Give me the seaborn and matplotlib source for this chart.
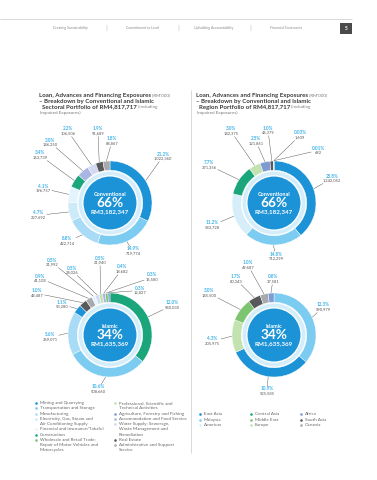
import matplotlib
matplotlib.use('Agg')
import matplotlib.pyplot as plt
from matplotlib.patches import Circle, Wedge, Rectangle
import numpy as np
import seaborn as sns

# ---- data -------------------------------------------------------------
sector_names = [
    'Mining and Quarrying', 'Transportation and Storage', 'Manufacturing',
    'Electricity, Gas, Steam and\nAir Conditioning Supply',
    'Financial and Insurance/Takaful', 'Construction',
    'Wholesale and Retail Trade;\nRepair of Motor Vehicles and\nMotorcycles',
    'Professional, Scientific and\nTechnical Activities',
    'Agriculture, Forestry and Fishing', 'Accommodation and Food Service',
    'Water Supply; Sewerage,\nWaste Management and\nRemediation',
    'Real Estate', 'Administrative and Support\nService',
]
sector_colors = ['#1b93d6', '#7ccbf1', '#a8dbf5', '#cdeaf9', '#e4f4fc', '#1aa57a',
                 '#7dc470', '#c2e3b0', '#7f9bd2', '#a9b6e4', '#d3d9f0', '#58595b', '#a7a9ac']

region_names = ['East Asia', 'Malaysia', 'Americas', 'Central Asia', 'Middle East',
                'Europe', 'Africa', 'South Asia', 'Oceania']
region_colors = ['#1b93d6', '#7ccbf1', '#d6eefa', '#1aa57a', '#7dc470',
                 '#c2e3b0', '#7f9bd2', '#58595b', '#a7a9ac']

# conventional, by sector (clockwise from top)
conv_sec_idx = [0, 1, 2, 3, 4, 5, 9, 10, 11, 12]
conv_sec_values = [1022360, 719774, 422714, 227692, 196757, 163739, 146250, 106506, 91689, 84867]
conv_sec_pcts = ['21.2%', '14.9%', '8.8%', '4.7%', '4.1%', '3.4%', '3.0%', '2.2%', '1.9%', '1.8%']

# islamic, by sector
isl_sec_idx = [5, 1, 2, 0, 11, 12, 4, 10, 7, 9, 6, 8]
isl_sec_values = [580030, 508660, 269071, 53280, 48487, 41108, 21992, 24026, 21940, 18682, 15580, 12827]
isl_sec_pcts = ['12.0%', '10.6%', '5.6%', '1.1%', '1.0%', '0.9%', '0.5%', '0.5%', '0.5%', '0.4%', '0.3%', '0.3%']

# conventional, by region
conv_reg_idx = [0, 1, 2, 3, 5, 6, 7, 8, 4]
conv_reg_values = [1242052, 712299, 543728, 371356, 142375, 121861, 46379, 1609, 692]
conv_reg_pcts = ['25.8%', '14.8%', '11.2%', '7.7%', '3.0%', '2.5%', '1.0%', '0.03%', '0.01%']

# islamic, by region
isl_reg_idx = [1, 0, 5, 4, 7, 8, 6]
isl_reg_values = [590979, 525585, 205975, 145500, 80343, 49687, 37581]
isl_reg_pcts = ['12.3%', '10.9%', '4.3%', '3.0%', '1.7%', '1.0%', '0.8%']

# ---- layout (pixels, y down) ------------------------------------------
W, H = 377, 480
R = 42
BLUE = '#1b93d6'
PALE = '#d4edfa'
PCT_C = '#3db1e8'
TXT = '#555555'

conv_sec_lab = [(163, 154), (133, 249), (67, 239), (38, 213), (43, 186), (40, 153),
                (50, 140), (68, 129), (98, 129), (112, 139)]
isl_sec_lab = [(172, 303), (98, 387), (50, 335), (62, 302), (37, 291), (40, 276),
               (52, 260), (72, 268), (100, 258), (122, 267), (152, 275), (140, 288)]
conv_reg_lab = [(332, 176), (276, 254), (212, 223), (209, 163), (231, 129),
                (256, 139), (268, 128), (300, 133), (318, 148)]
isl_reg_lab = [(323, 305), (267, 389), (212, 339), (209, 291), (236, 277),
               (248, 263), (273, 277)]

sns.set_theme(style='white')
plt.rcParams['font.family'] = ['Lato', 'DejaVu Sans']

fig = plt.figure(figsize=(W / 100, H / 100), dpi=100)
ax = fig.add_axes([0, 0, 1, 1])
ax.set_xlim(0, W)
ax.set_ylim(0, H)
ax.axis('off')
renderer = fig.canvas.get_renderer()


def Y(y):
    return H - y


def fit(s, target_px, weight='normal'):
    """font size that makes text s about target_px wide"""
    t = ax.text(0, 0, s, fontsize=10, fontweight=weight)
    w = t.get_window_extent(renderer).width
    t.remove()
    return 10 * target_px / w


F_TITLE = fit('Loan, Advances and Financing Exposures', 113, 'bold')
F_TITLE_L = F_TITLE * 0.72
F_HEAD = fit('Creating Sustainability', 34)
F_KIND = fit('Conventional', 33, 'bold')
F_SHARE = fit('66%', 27, 'bold')
F_AMT = fit('RM3,182,347', 38, 'bold')
F_PCT = fit('21.2%', 13, 'bold')
F_VAL = fit('1,022,360', 18)
F_LEG = fit('Mining and Quarrying', 43)


def draw_donut(center, values, idx, palette, pcts, labels, kind, share, amount):
    cx, cy = center
    colors = [palette[i] for i in idx]
    ax.pie(values, colors=colors, radius=R, center=(cx, Y(cy)), startangle=90,
           counterclock=False, frame=True,
           wedgeprops=dict(width=R * 0.22, edgecolor='white', linewidth=0.3))
    ax.add_patch(Wedge((cx, Y(cy)), R * 0.75, 0, 360, width=R * 0.09,
                       facecolor=PALE, edgecolor='none'))
    ax.add_patch(Circle((cx, Y(cy)), R * 0.63, facecolor=BLUE, edgecolor='none'))
    ax.text(cx, Y(cy - 9), kind, color='white', fontsize=F_KIND, fontweight='bold',
            ha='center', va='center')
    ax.text(cx, Y(cy), share, color='white', fontsize=F_SHARE, fontweight='bold',
            ha='center', va='center')
    ax.text(cx, Y(cy + 9), amount, color='white', fontsize=F_AMT, fontweight='bold',
            ha='center', va='center')

    total = float(sum(values))
    mids = np.cumsum(values) - np.array(values) / 2.0
    for v, p, (lx, ly), m in zip(values, pcts, labels, mids):
        vs = f'{v:,}'
        ax.text(lx, Y(ly), p, color=PCT_C, fontsize=F_PCT, fontweight='bold',
                ha='center', va='center')
        ax.text(lx, Y(ly + 4.8), vs, color=TXT, fontsize=F_VAL, ha='center', va='center')
        theta = np.deg2rad(m / total * 360.0)
        px, py = cx + (R + 0.3) * np.sin(theta), cy - (R + 0.3) * np.cos(theta)
        bx, by = lx, ly + 2.4
        hw = 1.05 * max(len(p), len(vs)) + 1.5
        hh = 5.2
        dx, dy = px - bx, py - by
        t = min(hw / abs(dx) if dx else np.inf, hh / abs(dy) if dy else np.inf)
        if t < 1:
            sx, sy = bx + dx * t, by + dy * t
            ax.plot([sx, px], [Y(sy), Y(py)], color='#444444', lw=0.3)


def rich_line(x, y, parts):
    for s, size, weight, color in parts:
        t = ax.text(x, Y(y), s, fontsize=size, fontweight=weight, color=color,
                    ha='left', va='center')
        x1 = t.get_window_extent(renderer).x1
        x = ax.transData.inverted().transform((x1, 0))[0]


def title_block(x, kind):
    bold = ('bold', '#3a3a3a')
    light = ('normal', '#777777')
    rich_line(x, 95, [('Loan, Advances and Financing Exposures', F_TITLE, *bold),
                      (" (RM'000)", F_TITLE_L, *light)])
    rich_line(x, 101, [('– Breakdown by Conventional and Islamic', F_TITLE, *bold)])
    rich_line(x + 3, 107, [(f'{kind} Portfolio of RM4,817,717', F_TITLE, *bold),
                           (' (including', F_TITLE_L, *light)])
    rich_line(x + 1, 112.5, [('Impaired Exposures)', F_TITLE_L, *light)])


# header
ax.plot([0, 352], [Y(19), Y(19)], color='#bbbbbb', lw=0.4)
header_items = ['Creating Sustainability', 'Commitment to Lead',
                'Upholding Accountability', 'Financial Statements']
for hx, s in zip([70, 142, 214, 286], header_items):
    ax.text(hx, Y(28), s, fontsize=F_HEAD, color='#888888', ha='center', va='center')
for sx in [107, 179, 251]:
    ax.plot([sx, sx], [Y(25), Y(31)], color='#aaaaaa', lw=0.3)
ax.add_patch(Rectangle((340, Y(34)), 12, 11, facecolor='#4a4a4a', edgecolor='none'))
ax.text(346, Y(28.5), '5', fontsize=F_HEAD * 1.4, fontweight='bold', color='white',
        ha='center', va='center')

# divider
ax.plot([191, 191], [Y(90), Y(453)], color='#bbbbbb', lw=0.4)

title_block(39, 'Sectoral')
title_block(196, 'Region')

draw_donut((110, 203), conv_sec_values, conv_sec_idx, sector_colors, conv_sec_pcts,
           conv_sec_lab, 'Conventional', '66%', 'RM3,182,347')
draw_donut((110, 335), isl_sec_values, isl_sec_idx, sector_colors, isl_sec_pcts,
           isl_sec_lab, 'Islamic', '34%', 'RM1,635,369')
draw_donut((274, 203), conv_reg_values, conv_reg_idx, region_colors, conv_reg_pcts,
           conv_reg_lab, 'Conventional', '66%', 'RM3,182,347')
draw_donut((274, 335), isl_reg_values, isl_reg_idx, region_colors, isl_reg_pcts,
           isl_reg_lab, 'Islamic', '34%', 'RM1,635,369')

# sector legend (two columns)
LH = 5.25
columns = [(36, list(range(0, 7))), (115, list(range(7, 13)))]
for mx, items in columns:
    y = 403
    for i in items:
        ax.scatter([mx], [Y(y)], s=3.5, color=sector_colors[i], linewidths=0)
        for k, line in enumerate(sector_names[i].split('\n')):
            ax.text(mx + 4, Y(y + k * LH), line, fontsize=F_LEG, color='#666666',
                    ha='left', va='center')
        y += LH * len(sector_names[i].split('\n'))

# region legend (three columns)
for i, name in enumerate(region_names):
    mx = [200, 251, 301][i // 3]
    y = 414 + (i % 3) * 5.6
    ax.scatter([mx], [Y(y)], s=3.5, color=region_colors[i], linewidths=0)
    ax.text(mx + 4, Y(y), name, fontsize=F_LEG, color='#666666', ha='left', va='center')

ax.set_xlim(0, W)
ax.set_ylim(0, H)
ax.set_aspect('equal')
ax.axis('off')

fig.savefig('out.png', dpi=100, facecolor='white')
